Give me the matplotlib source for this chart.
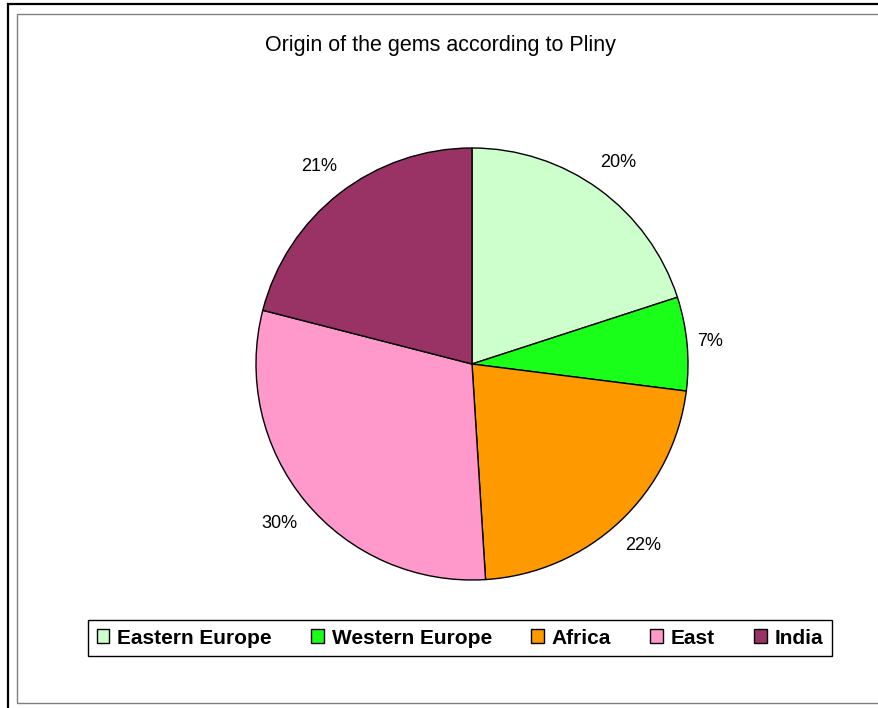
import matplotlib
matplotlib.use("Agg")
import matplotlib.pyplot as plt
from matplotlib.patches import Rectangle

plt.rcParams["font.family"] = ["Liberation Sans", "DejaVu Sans"]

# data
regions = ["Eastern Europe", "Western Europe", "Africa", "East", "India"]
shares = [20, 7, 22, 30, 21]
colors = ["#CCFFCC", "#1AFF1A", "#FF9900", "#FF99CC", "#993366"]
title = "Origin of the gems according to Pliny"

W, H = 879, 708
fig = plt.figure(figsize=(W / 100, H / 100), dpi=100)
ax = fig.add_axes([0, 0, 1, 1])

# pie in pixel coordinates (y measured from bottom)
cx, cy, rad = 472, H - 364, 216
wedges, texts, autotexts = ax.pie(
    shares, colors=colors, startangle=90, counterclock=False,
    center=(cx, cy), radius=rad, autopct="%1.0f%%", pctdistance=1.155,
    wedgeprops={"edgecolor": "black", "linewidth": 1.0},
    textprops={"fontsize": 13, "color": "black"},
)
# small slice label sits a bit closer in the original
x7, y7 = autotexts[1].get_position()
autotexts[1].set_position((cx + (x7 - cx) * 0.96, cy + (y7 - cy) * 0.96))

ax.set_xlim(0, W)
ax.set_ylim(0, H)
ax.set_aspect("equal")
ax.axis("off")

ax.text(440, H - 45, title, ha="center", va="center", fontsize=15.5)

# chart frame borders
fig.add_artist(Rectangle((8 / W, -0.05), 1.1, 1 - 4 / H + 0.05,
                         transform=fig.transFigure, fill=False,
                         edgecolor="black", linewidth=1.6))
fig.add_artist(Rectangle((17 / W, 1 - 703 / H), 1.1, (703 - 14) / H,
                         transform=fig.transFigure, fill=False,
                         edgecolor="#808080", linewidth=1.0))

leg = fig.legend(wedges, regions, loc="center", ncol=5,
                 bbox_to_anchor=(460 / W, 1 - 638 / H),
                 prop={"size": 15, "weight": "bold"},
                 handlelength=0.62, handleheight=0.62, handletextpad=0.38,
                 columnspacing=1.87, borderpad=0.4, fancybox=False,
                 framealpha=1, edgecolor="black")
leg.get_frame().set_linewidth(1.0)

fig.savefig("out.png", dpi=100)
